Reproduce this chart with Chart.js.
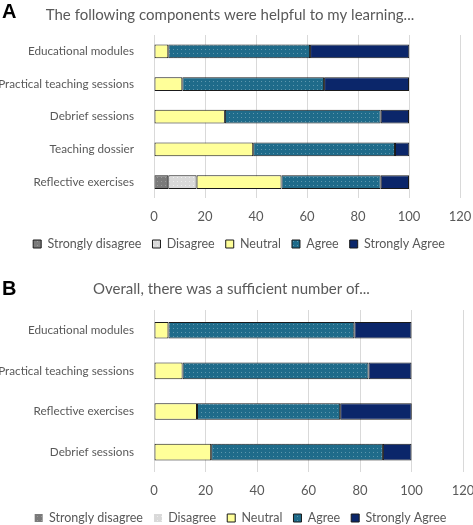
<!DOCTYPE html>
<html>
<head>
<meta charset="utf-8">
<script src="https://cdn.jsdelivr.net/npm/chart.js@4.4.1/dist/chart.umd.min.js"></script>
<style>
  html, body { margin: 0; padding: 0; background: #fff; }
  body { width: 473px; height: 525px; position: relative; overflow: hidden; }
  .panel { position: absolute; left: 0; width: 473px; background: transparent; }
  #pa { top: 0; height: 255px; }
  #pb { top: 255px; height: 270px; }
  .tag { position: absolute; font-family: "Liberation Sans", Arial, sans-serif; font-weight: bold; font-size: 20px; color: #000; line-height: 1; }
</style>
</head>
<body>
<div class="panel" id="pa"><canvas id="ca" width="473" height="255"></canvas></div>
<div class="panel" id="pb"><canvas id="cb" width="473" height="270"></canvas></div>
<div class="tag" style="left:2px;top:1px;">A</div>
<div class="tag" style="left:2px;top:278px;">B</div>
<script>
// ---- Data ----
const seriesNames = ['Strongly disagree', 'Disagree', 'Neutral', 'Agree', 'Strongly Agree'];
const xTicks = [0, 20, 40, 60, 80, 100, 120];

const titleA = 'The following components were helpful to my learning...';
const categoriesA = ['Educational modules', 'Practical teaching sessions', 'Debrief sessions', 'Teaching dossier', 'Reflective exercises'];
const stronglyDisagreeA = [0, 0, 0, 0, 5.6];
const disagreeA = [0, 0, 0, 0, 11.1];
const neutralA = [5.6, 11.1, 27.8, 38.9, 33.3];
const agreeA = [55.6, 55.6, 61.1, 55.6, 38.9];
const stronglyAgreeA = [38.9, 33.3, 11.1, 5.6, 11.1];

const titleB = 'Overall, there was a sufficient number of...';
const categoriesB = ['Educational modules', 'Practical teaching sessions', 'Reflective exercises', 'Debrief sessions'];
const stronglyDisagreeB = [0, 0, 0, 0];
const disagreeB = [0, 0, 0, 0];
const neutralB = [5.6, 11.1, 16.7, 22.2];
const agreeB = [72.2, 72.2, 55.6, 66.7];
const stronglyAgreeB = [22.2, 16.7, 27.8, 11.1];

// ---- Styles ----
const FONT = 'Lato, "Open Sans", sans-serif';
const TEXT = '#595959';
function dotted(base, dot) {
  const c = document.createElement('canvas');
  c.width = 4; c.height = 4;
  const g = c.getContext('2d');
  g.fillStyle = base; g.fillRect(0, 0, 4, 4);
  g.fillStyle = dot; g.fillRect(1, 1, 1, 1);
  return g.createPattern(c, 'repeat');
}
const colors = [
  dotted('#7a7a7a', '#9a9a9a'),
  dotted('#d9d9d9', '#eeeeee'),
  '#ffff99',
  dotted('#1f6b8a', '#5e97ae'),
  '#0b266a'
];

// moves the legend row to a chosen position after layout
const legendPlace = {
  id: 'legendPlace',
  afterLayout(chart, args, o) {
    const L = chart.legend;
    if (!L || o.center == null) return;
    const lab = chart.options.plugins.legend.labels;
    const h = Math.max(lab.font.size, lab.boxHeight);
    L.top = o.center - lab.padding - h / 2;
    L.bottom = chart.height;
    L.height = L.bottom - L.top;
    L.left += o.dx || 0;
    L.right += o.dx || 0;
  }
};

function makeChart(id, title, cats, vals, opts) {
  const datasets = vals.map((v, i) => ({
    label: seriesNames[i],
    data: v,
    backgroundColor: colors[i],
    borderColor: '#1a1a1a',
    borderWidth: (opts.noBorder && opts.noBorder.includes(i)) ? 0 : 1,
    borderSkipped: false,
    barPercentage: 1,
    categoryPercentage: opts.catPct
  }));
  return new Chart(document.getElementById(id), {
    type: 'bar',
    data: { labels: cats, datasets },
    plugins: [legendPlace],
    options: {
      indexAxis: 'y',
      responsive: false,
      animation: false,
      layout: { padding: { left: 0, right: opts.padRight, top: 0, bottom: 0 } },
      plugins: {
        title: {
          display: true, text: title, color: TEXT,
          font: { family: FONT, size: 15, weight: 'normal' },
          padding: { top: opts.titleTop, bottom: opts.titleBottom }
        },
        legend: {
          position: 'bottom',
          maxHeight: opts.legendMaxH,
          labels: {
            color: TEXT, font: { family: FONT, size: 12.5 },
            boxWidth: 8, boxHeight: 8, padding: 11, useBorderRadius: false
          }
        },
        legendPlace: { center: opts.legendCenter, dx: 9 },
        tooltip: { enabled: false }
      },
      scales: {
        x: {
          stacked: true, min: 0, max: 120,
          afterBuildTicks: (s) => { s.ticks = xTicks.map(v => ({ value: v })); },
          afterFit: (s) => { s.paddingRight = 0; s.paddingLeft = 0; },
          grid: { color: '#d9d9d9', drawTicks: false },
          border: { display: false },
          ticks: { color: TEXT, font: { family: FONT, size: 13 }, padding: 11 }
        },
        y: {
          stacked: true,
          grid: { display: false },
          border: { display: false },
          ticks: { color: TEXT, font: { family: FONT, size: 11.7 }, padding: 12 },
          afterFit: (s) => { s.width = 154; }
        }
      }
    }
  });
}

makeChart('ca', titleA, categoriesA,
  [stronglyDisagreeA, disagreeA, neutralA, agreeA, stronglyAgreeA],
  { catPct: 0.42, padRight: 13, titleTop: 6, titleBottom: 11, legendMaxH: 19, legendCenter: 244 });

makeChart('cb', titleB, categoriesB,
  [stronglyDisagreeB, disagreeB, neutralB, agreeB, stronglyAgreeB],
  { catPct: 0.41, padRight: 10, titleTop: 25, titleBottom: 12, legendMaxH: 15, legendCenter: 263, noBorder: [0, 1] });
</script>
</body>
</html>
